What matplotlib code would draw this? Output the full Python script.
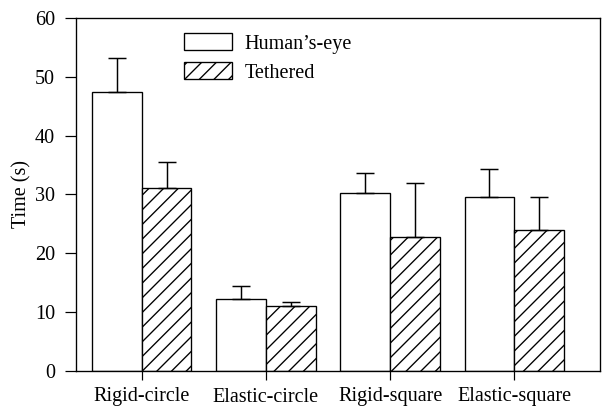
import matplotlib
matplotlib.use("Agg")
import matplotlib.pyplot as plt
import numpy as np

categories = ["Rigid-circle", "Elastic-circle", "Rigid-square", "Elastic-square"]
series_names = ["Human\u2019s-eye", "Tethered"]
human_eye = [47.4, 12.3, 30.3, 29.6]
human_eye_err = [5.8, 2.1, 3.4, 4.7]
tethered = [31.1, 11.1, 22.8, 24.0]
tethered_err = [4.4, 0.7, 9.2, 5.6]
yticks = [0, 10, 20, 30, 40, 50, 60]

DPI = 88
plt.rcParams['font.family'] = ['Liberation Serif', 'DejaVu Serif']
plt.rcParams['hatch.linewidth'] = 1.1

fig = plt.figure(figsize=(607 / DPI, 415 / DPI), dpi=DPI)
ax = fig.add_axes([76 / 607, 1 - 371 / 415, (600 - 76) / 607, (371 - 18) / 415])

x = np.arange(len(categories))
w = 0.40
lw = 1.1
ekw = dict(elinewidth=1.2, capthick=1.2, capsize=7.5, ecolor='black')

ax.bar(x - w / 2, human_eye, w, color='white', edgecolor='black', linewidth=lw,
       yerr=[np.zeros(len(x)), human_eye_err], error_kw=ekw, label=series_names[0])
ax.bar(x + w / 2, tethered, w, color='white', edgecolor='black', linewidth=lw,
       hatch='//', yerr=[np.zeros(len(x)), tethered_err], error_kw=ekw,
       label=series_names[1])

ax.set_xlim(-0.53, 3.69)
ax.set_ylim(0, 60)
ax.set_yticks(yticks)
ax.set_xticks(x)
ax.set_xticklabels(categories)
ax.tick_params(axis='y', direction='out', length=9, width=1, pad=8, labelsize=16.5)
ax.tick_params(axis='x', direction='out', length=7.5, width=1, pad=6, labelsize=16.5)
for s in ax.spines.values():
    s.set_linewidth(1.1)
ax.set_ylabel("Time (s)", fontsize=16.5, labelpad=3)

leg = ax.legend(loc='upper left', bbox_to_anchor=(184 / 607, 1 - 33 / 415),
                bbox_transform=fig.transFigure, frameon=False, fontsize=16.5,
                handlelength=2.4, handleheight=0.95, handletextpad=0.62,
                labelspacing=0.42, borderpad=0, borderaxespad=0)

fig.savefig("out.png", dpi=DPI)
